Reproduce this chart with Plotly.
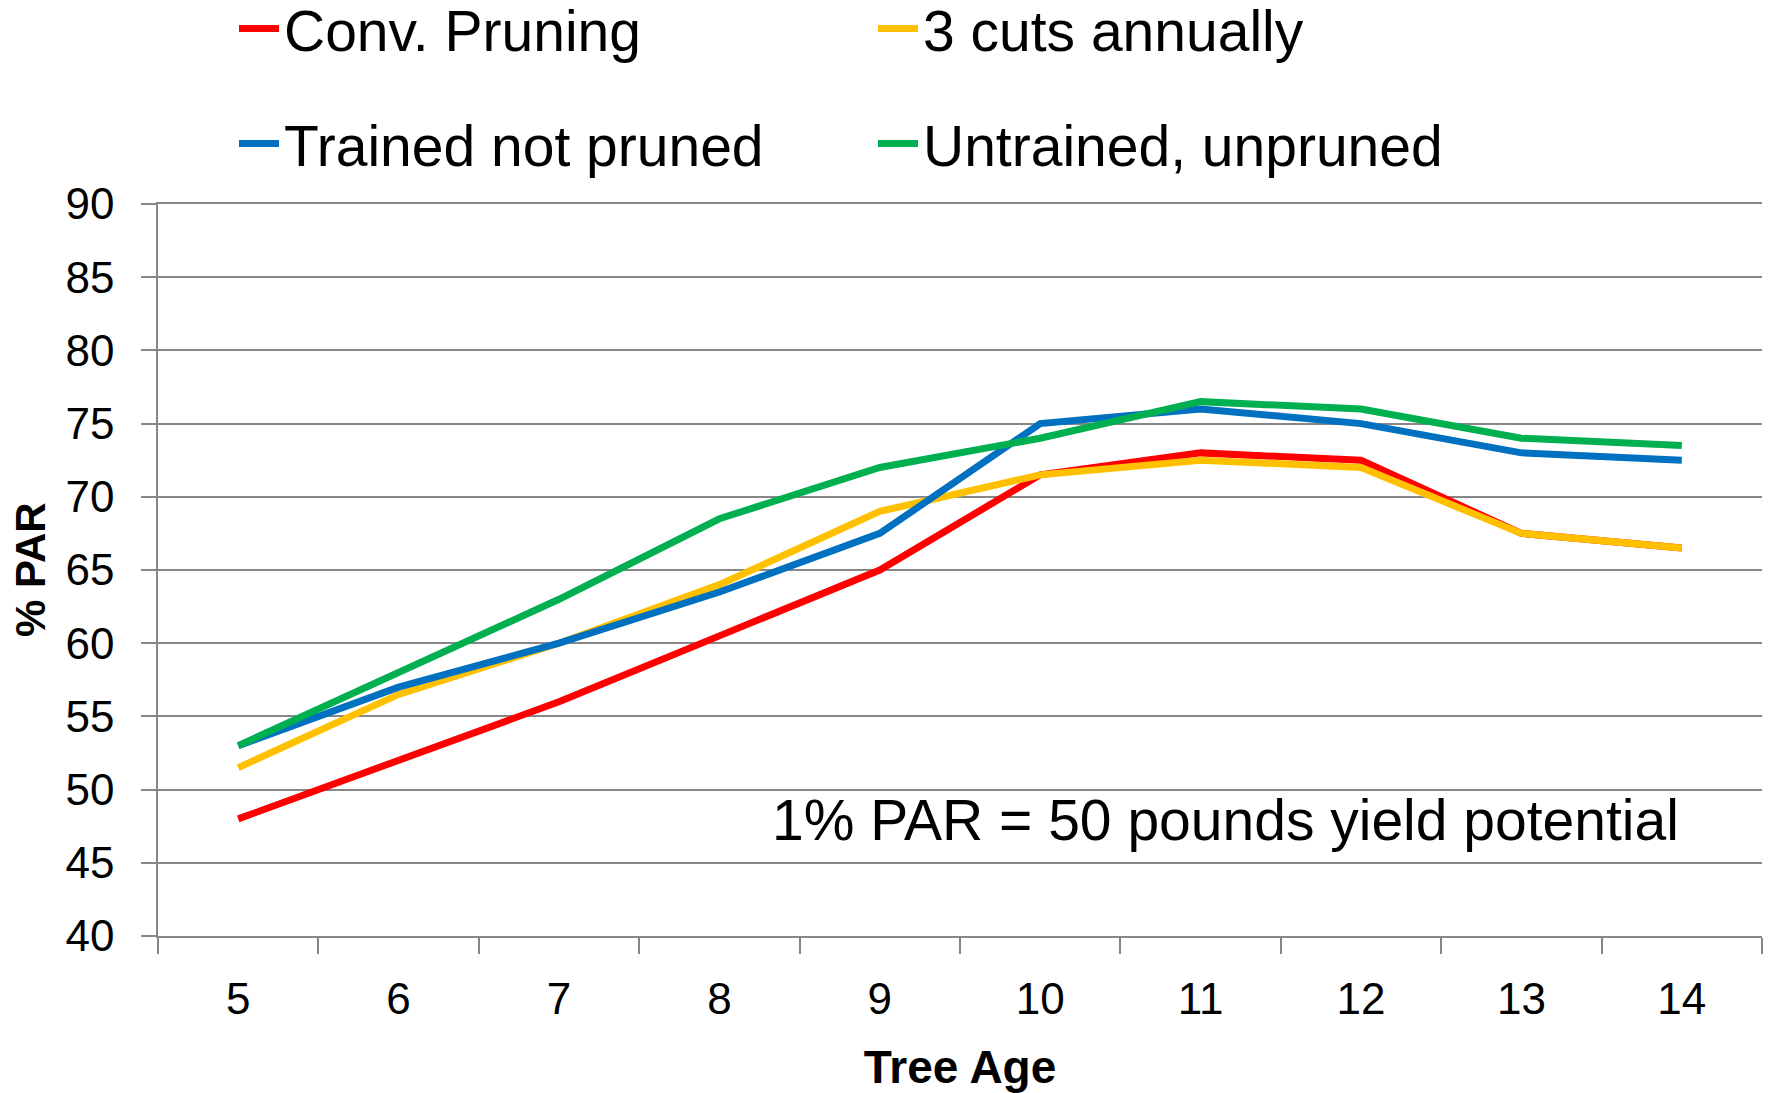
import plotly.graph_objects as go

ages = ["5", "6", "7", "8", "9", "10", "11", "12", "13", "14"]
conv_pruning = [48, 52, 56, 60.5, 65, 71.5, 73, 72.5, 67.5, 66.5]
three_cuts = [51.5, 56.5, 60, 64, 69, 71.5, 72.5, 72, 67.5, 66.5]
trained_not_pruned = [53, 57, 60, 63.5, 67.5, 75, 76, 75, 73, 72.5]
untrained_unpruned = [53, 58, 63, 68.5, 72, 74, 76.5, 76, 74, 73.5]

y_ticks = [40, 45, 50, 55, 60, 65, 70, 75, 80, 85, 90]

FONT = "Liberation Sans, Arial, sans-serif"
W, H = 1771, 1093
L, R, T, B = 158, 9, 204, 157
PW = W - L - R

fig = go.Figure()
series = [
    ("Conv. Pruning", conv_pruning, "#FF0000", "legend"),
    ("3 cuts annually", three_cuts, "#FFC000", "legend"),
    ("Trained not pruned", trained_not_pruned, "#0070C0", "legend2"),
    ("Untrained, unpruned", untrained_unpruned, "#00B050", "legend2"),
]
for name, vals, col, lg in series:
    fig.add_trace(go.Scatter(x=ages, y=vals, name=name, mode="lines",
                             line=dict(color=col, width=7), legend=lg))

legend_common = dict(orientation="h", xref="container", yref="container",
                     xanchor="left", yanchor="middle",
                     font=dict(family=FONT, size=57, color="black"),
                     entrywidth=584, entrywidthmode="pixels",
                     bgcolor="rgba(0,0,0,0)", itemwidth=40)

fig.update_layout(
    width=W, height=H,
    margin=dict(l=L, r=R, t=T, b=B, autoexpand=False),
    plot_bgcolor="white", paper_bgcolor="white",
    font=dict(family=FONT, color="black"),
    legend=dict(x=234 / W, y=1 - 29 / H, **legend_common),
    legend2=dict(x=234 / W, y=1 - 144 / H, **legend_common),
    xaxis=dict(
        type="category", tickson="boundaries", showgrid=False, range=[-0.5, 9.5],
        ticks="outside", ticklen=16, tickcolor="#878787", tickwidth=1.5,
        showline=True, mirror=True, linecolor="#878787", linewidth=2, zeroline=False,
        tickfont=dict(family=FONT, size=44, color="black"),
        ticklabelstandoff=23,
        title=dict(text="<b>Tree Age</b>", font=dict(family=FONT, size=46, color="black"), standoff=38),
    ),
    yaxis=dict(
        range=[40, 90], tickvals=y_ticks, showgrid=True, gridcolor="#878787", gridwidth=2,
        ticks="outside", ticklen=15, tickcolor="#878787", tickwidth=2,
        showline=True, linecolor="#878787", linewidth=1.5, zeroline=False,
        tickfont=dict(family=FONT, size=44, color="black"),
        ticklabelstandoff=18,
    ),
    showlegend=True,
)

fig.add_annotation(text="<b>% PAR</b>", xref="paper", yref="paper",
                   x=(30 - L) / PW, y=0.5, xanchor="center", yanchor="middle",
                   textangle=-90, showarrow=False,
                   font=dict(family=FONT, size=42, color="black"))

fig.add_annotation(text="1% PAR = 50 pounds yield potential", xref="paper", yref="y",
                   x=(1681 - L) / PW, y=47.9, xanchor="right", yanchor="middle",
                   showarrow=False, font=dict(family=FONT, size=57, color="black"))

fig.write_html("out.html", config={"displayModeBar": False},
               post_script="document.body.style.margin='0';document.body.style.padding='0';")
